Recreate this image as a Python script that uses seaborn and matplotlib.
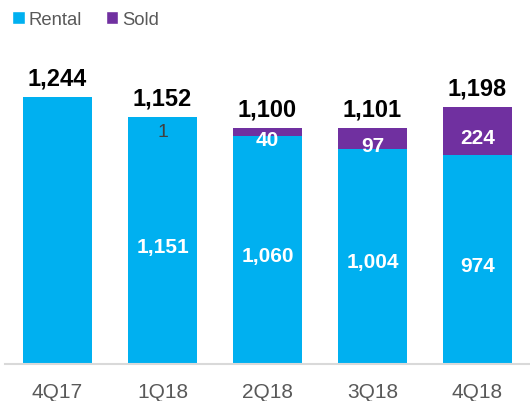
import matplotlib
matplotlib.use("Agg")
import matplotlib.pyplot as plt
from matplotlib.patches import Patch
import seaborn as sns
import pandas as pd

quarters = ["4Q17", "1Q18", "2Q18", "3Q18", "4Q18"]
rental = [1244, 1151, 1060, 1004, 974]
sold = [0, 1, 40, 97, 224]
totals = [r + s for r, s in zip(rental, sold)]

RENTAL_C = "#00B0F0"
SOLD_C = "#7030A0"
GRAY = "#595959"

sns.set_theme(style="white")
plt.rcParams["font.family"] = ["Liberation Sans", "DejaVu Sans"]

df = pd.DataFrame({"quarter": quarters, "rental": rental, "sold": sold, "total": totals})

fig = plt.figure(figsize=(5.30, 4.02), dpi=100)
ax = fig.add_axes([5 / 530, 37 / 402, 525 / 530, 305 / 402])

# stacked bars: full total in purple, rental drawn over it
sns.barplot(data=df, x="quarter", y="total", color=SOLD_C, width=0.66,
            saturation=1, ax=ax, edgecolor="none")
sns.barplot(data=df, x="quarter", y="rental", color=RENTAL_C, width=0.66,
            saturation=1, ax=ax, edgecolor="none")

ax.set_xlim(-0.5, 4.5)
ax.set_ylim(0, 1421)
ax.set_xlabel("")
ax.set_ylabel("")
ax.set_yticks([])
for side in ["left", "right", "top"]:
    ax.spines[side].set_visible(False)
ax.spines["bottom"].set_color("#D9D9D9")
ax.spines["bottom"].set_linewidth(1.5)
ax.tick_params(axis="x", length=0, pad=13, labelsize=15, labelcolor=GRAY)

for i, (r, s, t) in enumerate(zip(rental, sold, totals)):
    ax.annotate(f"{t:,}", (i, t), xytext=(0, 9), textcoords="offset points",
                ha="center", va="baseline", fontsize=17, fontweight="bold", color="black")
    if i > 0:
        ax.annotate(f"{r:,}", (i, r / 2), xytext=(0, -4), textcoords="offset points",
                    ha="center", va="center", fontsize=15, fontweight="bold", color="white")
    if s >= 10:
        ax.annotate(f"{s:,}", (i, r + s / 2), xytext=(0, -5), textcoords="offset points",
                    ha="center", va="center", fontsize=15, fontweight="bold", color="white")
    elif s > 0:
        ax.annotate(f"{s:,}", (i, t), xytext=(0, -10.5), textcoords="offset points",
                    ha="center", va="center", fontsize=14, color="#404040")

handles = [Patch(facecolor=RENTAL_C, label="Rental"), Patch(facecolor=SOLD_C, label="Sold")]
fig.legend(handles=handles, loc="upper left", bbox_to_anchor=(0.0, 1.0), ncol=2,
           frameon=False, fontsize=13.3, labelcolor=GRAY, handlelength=0.68,
           handleheight=0.68, handletextpad=0.2, columnspacing=1.3,
           borderaxespad=0.45, borderpad=0.2)

fig.savefig("out.png", dpi=100)
